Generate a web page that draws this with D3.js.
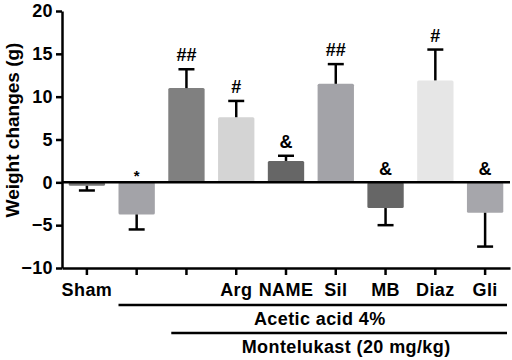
<!DOCTYPE html>
<html>
<head>
<meta charset="utf-8">
<script src="https://cdn.jsdelivr.net/npm/d3@7"></script>
<style>
  body { margin: 0; background: #fff; }
  text { font-family: "Liberation Sans", Arial, sans-serif; font-weight: bold; }
</style>
</head>
<body>
<div id="chart"></div>
<script>
const categories = ["Sham", "c2", "c3", "Arg", "NAME", "Sil", "MB", "Diaz", "Gli"];
const tickLabels = ["Sham", "", "", "Arg", "NAME", "Sil", "MB", "Diaz", "Gli"];
const means = [-0.4, -3.75, 11.0, 7.6, 2.5, 11.5, -3.0, 11.9, -3.55];
const errors = [0.55, 1.75, 2.2, 1.9, 0.6, 2.3, 2.0, 3.6, 3.95];
const marks = ["", "*", "##", "#", "&", "##", "&", "#", "&"];
const colors = ["#777777", "#a3a3a8", "#808080", "#d4d4d4", "#666666", "#a3a3a8", "#666666", "#e6e6e6", "#a6a6ab"];
const yTicks = [-10, -5, 0, 5, 10, 15, 20];
const groups = [
    { label: "Acetic acid 4%", from: 1, row: 0 },
    { label: "Montelukast (20 mg/kg)", from: 2, row: 1 }
];

const W = 512, H = 360;
const MARGIN = { left: 62, right: 2, top: 11, bottom: 92 };

const svg = d3.select("#chart").append("svg")
    .attr("width", W)
    .attr("height", H);

const x = d3.scaleBand()
    .domain(categories)
    .range([MARGIN.left, W - MARGIN.right])
    .paddingInner(0.27)
    .paddingOuter(0.135);

const y = d3.scaleLinear()
    .domain([-10, 20])
    .range([H - MARGIN.bottom, MARGIN.top]);

// bars
svg.append("g").selectAll("rect")
    .data(means)
    .join("rect")
    .attr("x", (d, i) => x(categories[i]))
    .attr("width", x.bandwidth())
    .attr("y", d => y(Math.max(0, d)))
    .attr("height", d => Math.abs(y(d) - y(0)))
    .attr("rx", 1.5)
    .attr("fill", (d, i) => colors[i]);

// error bars (outward side only)
const eb = svg.append("g")
    .attr("stroke", "#000")
    .attr("stroke-width", 2.5);

means.forEach((m, i) => {
    const cx = x(categories[i]) + x.bandwidth() / 2;
    const end = m >= 0 ? m + errors[i] : m - errors[i];
    eb.append("line")
        .attr("x1", cx).attr("x2", cx)
        .attr("y1", y(m)).attr("y2", y(end));
    eb.append("line")
        .attr("x1", cx - 8).attr("x2", cx + 8)
        .attr("y1", y(end)).attr("y2", y(end));
});

// significance marks
svg.append("g").selectAll("text")
    .data(marks)
    .join("text")
    .attr("x", (d, i) => x(categories[i]) + x.bandwidth() / 2)
    .attr("y", (d, i) => {
        if (means[i] >= 0) return y(means[i] + errors[i]) - 8;
        return d === "*" ? y(0) - 1 : y(0) - 7;
    })
    .attr("text-anchor", "middle")
    .style("font-size", d => d === "*" ? "15px" : "18px")
    .text(d => d);

// zero line
svg.append("line")
    .attr("x1", MARGIN.left).attr("x2", W - MARGIN.right)
    .attr("y1", y(0)).attr("y2", y(0))
    .attr("stroke", "#000")
    .attr("stroke-width", 2.5);

// y axis
const yAxis = svg.append("g")
    .attr("transform", `translate(${MARGIN.left},0)`)
    .call(d3.axisLeft(y).tickValues(yTicks).tickSize(6).tickSizeOuter(0).tickPadding(3));

// x axis
const xAxis = svg.append("g")
    .attr("transform", `translate(0,${y(-10)})`)
    .call(d3.axisBottom(x).tickSize(7).tickSizeOuter(0).tickPadding(8)
        .tickFormat((d, i) => tickLabels[i]));

[yAxis, xAxis].forEach(a => {
    a.selectAll("path, line").attr("stroke", "#000").attr("stroke-width", 2.5);
    a.selectAll("text").attr("fill", "#000")
        .style("font-size", "18px")
        .style("letter-spacing", "0.4px");
});

// treatment group lines
const groupTop = y(-10) + 37;
groups.forEach(g => {
    const x0 = x(categories[g.from]) + g.row * 3;
    const x1 = W - 5;
    const ly = groupTop + g.row * 28;
    svg.append("line")
        .attr("x1", x0).attr("x2", x1)
        .attr("y1", ly).attr("y2", ly)
        .attr("stroke", "#000")
        .attr("stroke-width", 2.5);
    svg.append("text")
        .attr("x", (x0 + x1) / 2 + 7)
        .attr("y", ly + 20)
        .attr("text-anchor", "middle")
        .style("font-size", "18px")
        .style("letter-spacing", "0.4px")
        .text(g.label);
});

// y axis title
svg.append("text")
    .attr("transform", "rotate(-90)")
    .attr("x", -130)
    .attr("y", 19)
    .attr("text-anchor", "middle")
    .style("font-size", "19px")
    .text("Weight changes (g)");
</script>
</body>
</html>
